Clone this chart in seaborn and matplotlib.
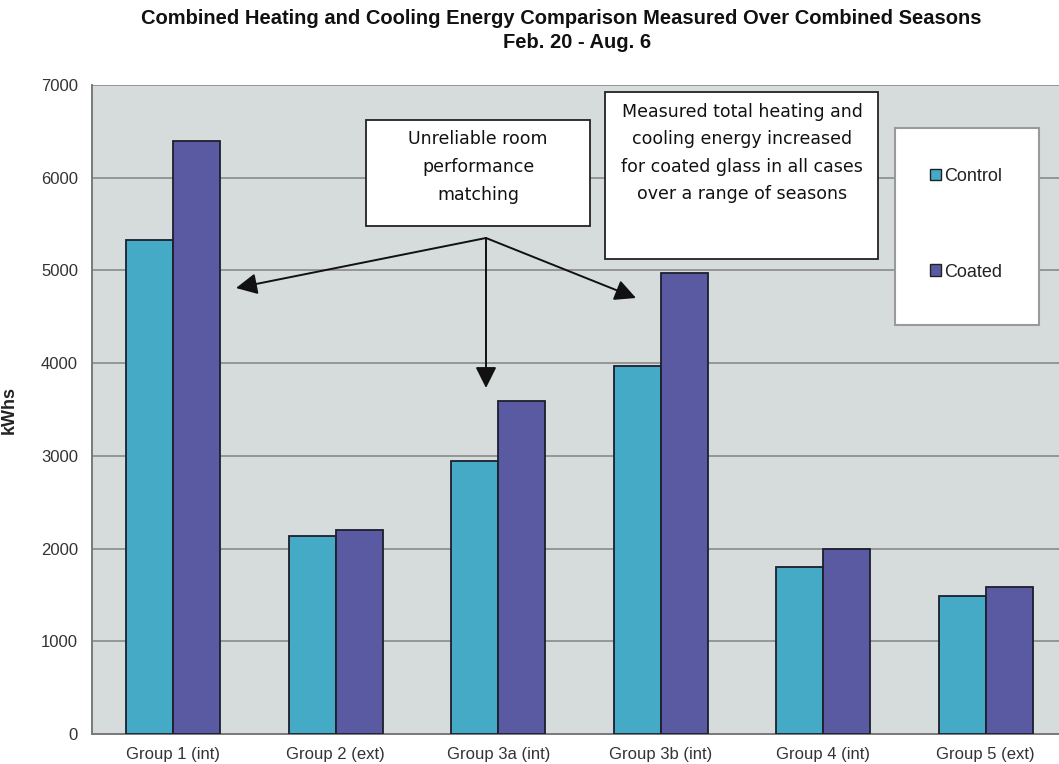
import matplotlib
matplotlib.use("Agg")
import matplotlib.pyplot as plt
from matplotlib.patches import Rectangle, FancyArrowPatch
import seaborn as sns
import pandas as pd

groups = ["Group 1 (int)", "Group 2 (ext)", "Group 3a (int)", "Group 3b (int)",
          "Group 4 (int)", "Group 5 (ext)"]
control = [5330, 2140, 2945, 3970, 1800, 1490]
coated = [6400, 2200, 3590, 4970, 1995, 1585]
series = ["Control", "Coated"]
colors = ["#44AAC6", "#5A5AA2"]
yticks = [0, 1000, 2000, 3000, 4000, 5000, 6000, 7000]

df = pd.DataFrame({
    "group": groups * 2,
    "series": ["Control"] * len(groups) + ["Coated"] * len(groups),
    "kwh": control + coated,
})

sns.set_theme(style="white")
plt.rcParams["font.family"] = ["Liberation Sans", "DejaVu Sans"]

W, H = 1059, 764
fig = plt.figure(figsize=(W / 100, H / 100), dpi=100)
fig.patch.set_facecolor("white")


def fx(px):
    return px / W


def fy(py):
    return 1 - py / H


ax = fig.add_axes([fx(92), fy(734), 975 / W, (734 - 85) / H])
ax.set_facecolor("#D6DCDC")

sns.barplot(data=df, x="group", y="kwh", hue="series", hue_order=series,
            palette=colors, saturation=1, width=0.58, edgecolor="#1E1E2E",
            linewidth=1.3, ax=ax, legend=False, zorder=3)

ax.set_ylim(0, 7000)
ax.set_xlim(-0.5, len(groups) - 0.5)
ax.set_yticks(yticks)
ax.set_yticklabels([str(v) for v in yticks], fontsize=12, color="#333333")
ax.yaxis.grid(True, color="#8A8A8A", linewidth=1.2, zorder=0)
ax.set_axisbelow(True)
ax.set_xticks(range(len(groups)))
ax.set_xticklabels(groups, fontsize=12, color="#333333")
ax.set_xticks([i + 0.5 for i in range(len(groups) - 1)], minor=True)
ax.tick_params(axis="x", which="major", length=0, pad=9)
ax.tick_params(axis="x", which="minor", length=5, color="#777777", width=1.2)
ax.tick_params(axis="y", length=6, color="#777777", width=1.2, pad=4)
ax.set_xlabel("")
ax.set_ylabel("kWhs", fontsize=13, fontweight="bold", color="#222222")
ax.yaxis.set_label_coords(-(92 - 18) / 975, (734 - 410) / (734 - 85))
for side in ["top", "right"]:
    ax.spines[side].set_visible(False)
for side in ["left", "bottom"]:
    ax.spines[side].set_color("#7A7A7A")
    ax.spines[side].set_linewidth(1.4)

fig.text(fx(561), fy(18), "Combined Heating and Cooling Energy Comparison Measured Over Combined Seasons",
         ha="center", va="center", fontsize=14.5, fontweight="bold", color="#111111")
fig.text(fx(577), fy(42), "Feb. 20 - Aug. 6", ha="center", va="center",
         fontsize=14.5, fontweight="bold", color="#111111")

note_font = ["Liberation Sans Narrow", "DejaVu Sans"]

# first note box with its three arrows
fig.patches.append(Rectangle((fx(366), fy(226)), (590 - 366) / W, (226 - 120) / H,
                             transform=fig.transFigure, facecolor="white",
                             edgecolor="#222222", linewidth=1.3, zorder=5))
fig.text(fx(478), fy(167), "Unreliable room\nperformance\nmatching", ha="center",
         va="center", fontsize=12.5, linespacing=1.7, family=note_font,
         color="#111111", zorder=6)

start = (fx(486), fy(238))
for end in [(fx(236), fy(288)), (fx(486), fy(388)), (fx(636), fy(298))]:
    fig.add_artist(FancyArrowPatch(
        start, end, transform=fig.transFigure, arrowstyle="-|>,head_length=8,head_width=4",
        mutation_scale=1.6, color="#111111", linewidth=1.4, shrinkA=0, shrinkB=0, zorder=6))

# second note box
fig.patches.append(Rectangle((fx(605), fy(259)), (878 - 605) / W, (259 - 92) / H,
                             transform=fig.transFigure, facecolor="white",
                             edgecolor="#222222", linewidth=1.3, zorder=5))
fig.text(fx(742), fy(153), "Measured total heating and\ncooling energy increased\n"
         "for coated glass in all cases\nover a range of seasons", ha="center",
         va="center", fontsize=12.5, linespacing=1.65, family=note_font,
         color="#111111", zorder=6)

# legend panel
fig.patches.append(Rectangle((fx(895), fy(325)), (1039 - 895) / W, (325 - 128) / H,
                             transform=fig.transFigure, facecolor="white",
                             edgecolor="#9A9A9A", linewidth=1.5, zorder=5))
handles = [Rectangle((0, 0), 1, 1, facecolor=c, edgecolor="#222222", linewidth=1)
           for c in colors]
leg = fig.legend(handles, series, loc="upper left", bbox_to_anchor=(fx(930), fy(168)),
                 frameon=False, fontsize=13, handlelength=0.6, handleheight=0.6,
                 handletextpad=0.2, labelspacing=4.35, borderpad=0, borderaxespad=0)
leg.set_zorder(7)
for t in leg.get_texts():
    t.set_color("#222222")

fig.savefig("out.png", dpi=100)
